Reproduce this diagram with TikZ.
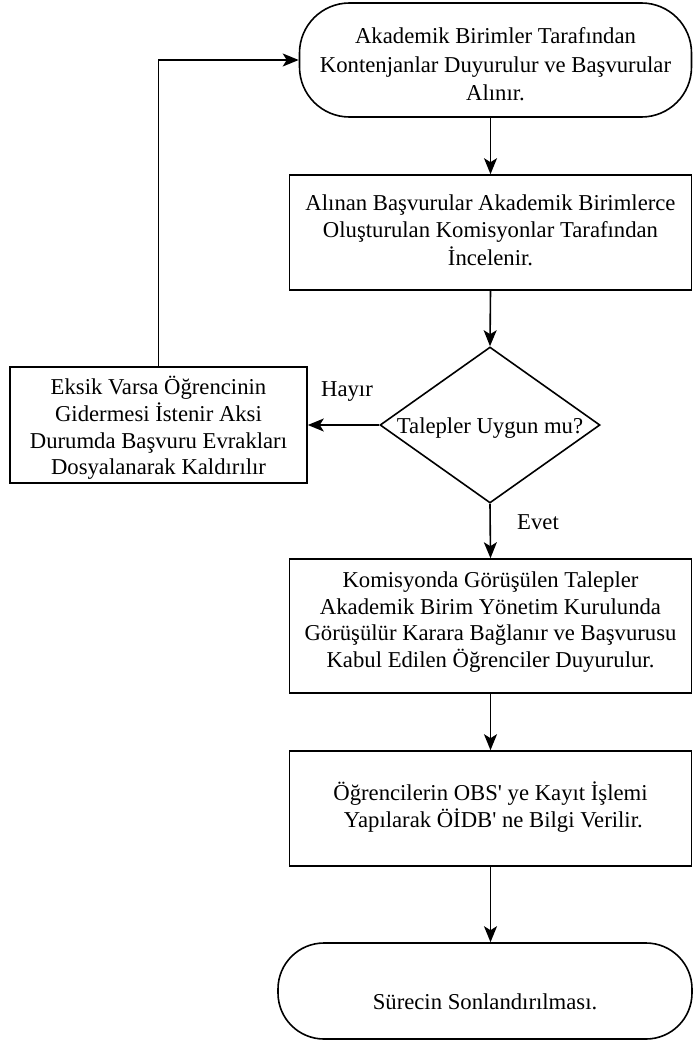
\documentclass[tikz,border=0pt]{standalone}
\usepackage{fontspec}
\setmainfont{Liberation Serif}[Ligatures=TeXOff]
\usetikzlibrary{shapes.geometric,arrows.meta}
\newcommand{\fcline}[1]{\strut #1}
\begin{document}
\begin{tikzpicture}[x=1pt,y=-1pt,
  every node/.style={inner sep=0pt},
  txt/.style={font=\fontsize{22.7}{26.6}\selectfont, align=center},
  txtb/.style={font=\fontsize{22.7}{28.5}\selectfont, align=center},
  term/.style={draw, line width=1.6pt, rounded corners=50pt},
  proc/.style={draw, line width=1.6pt},
  dec/.style={draw, line width=1.6pt, diamond},
  conn/.style={line width=1.6pt, -{Stealth[length=16pt,width=13pt,inset=4pt]}},
  lbl/.style={font=\fontsize{22.7}{26.6}\selectfont, anchor=base}]
\useasboundingbox (0,0) rectangle (693,1041);
% shapes
\node[term, minimum width=392pt, minimum height=114pt] (start) at (495.5,60) {};
\node[proc, minimum width=402pt, minimum height=115pt] (b2) at (490.5,232.5) {};
\node[dec, minimum width=220pt, minimum height=156pt] (d) at (490,425) {};
\node[proc, minimum width=297pt, minimum height=116pt] (lb) at (158.5,425) {};
\node[proc, minimum width=402pt, minimum height=134pt] (b3) at (490.5,626) {};
\node[proc, minimum width=402pt, minimum height=115pt] (b4) at (490.5,808.5) {};
\node[term, rounded corners=46pt, minimum width=414pt, minimum height=96pt] (end) at (485,991) {};
% texts
\node[txtb] (t1) at (495.5,66.3) {\fcline{Akademik Birimler Tarafından}\\\fcline{Kontenjanlar Duyurulur ve Başvurular}\\\fcline{Alınır.}};
\node[txt] (t2) at (490.5,232.7) {\fcline{Alınan Başvurular Akademik Birimlerce}\\\fcline{Oluşturulan Komisyonlar Tarafından}\\\fcline{İncelenir.}};
\node[txt] (td) at (490,428.2) {\fcline{Talepler Uygun mu?}};
\node[txt] (tl) at (158.5,429.2) {\fcline{Eksik Varsa Öğrencinin}\\\fcline{Gidermesi İstenir Aksi}\\\fcline{Durumda Başvuru Evrakları}\\\fcline{Dosyalanarak Kaldırılır}};
\node[txt] (t3) at (490.5,622.2) {\fcline{Komisyonda Görüşülen Talepler}\\\fcline{Akademik Birim Yönetim Kurulunda}\\\fcline{Görüşülür Karara Bağlanır ve Başvurusu}\\\fcline{Kabul Edilen Öğrenciler Duyurulur.}};
\node[txt] (t4) at (490.5,808.7) {\fcline{Öğrencilerin OBS' ye Kayıt İşlemi}\\\fcline{ Yapılarak ÖİDB' ne Bilgi Verilir.}};
\node[txt] (te) at (485,1004.2) {\fcline{Sürecin Sonlandırılması.}};
\node[lbl] (hayir) at (347,396) {Hayır};
\node[lbl] (evet) at (538,529) {Evet};
% connectors
\draw[conn] (start.south -| b2.north) -- (b2.north);
\draw[conn] (b2.south) -- (d.north);
\draw[conn] (d.west) -- (lb.east);
\draw[conn] (lb.north) |- (start.west);
\draw[conn] (d.south) -- (b3.north);
\draw[conn] (b3.south) -- (b4.north);
\draw[conn] (b4.south) -- (b4.south |- end.north);
\end{tikzpicture}
\end{document}
